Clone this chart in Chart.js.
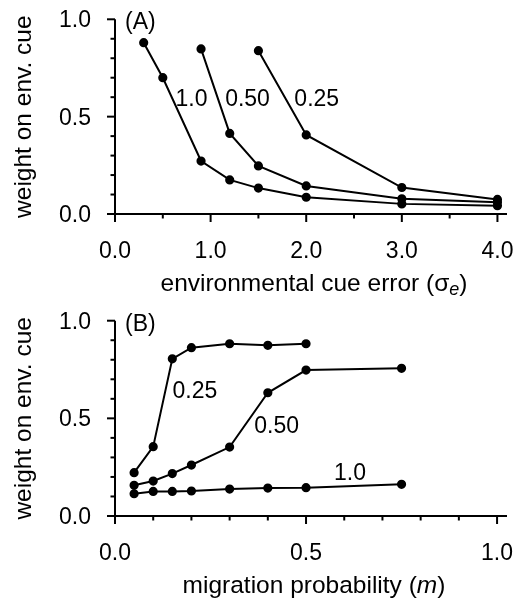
<!DOCTYPE html>
<html>
<head>
<meta charset="utf-8">
<script src="https://cdn.jsdelivr.net/npm/chart.js@4.4.1/dist/chart.umd.min.js"></script>
<style>
  body { margin: 0; background: #fff; }
  canvas { display: block; }
</style>
</head>
<body>
<canvas id="chartA" width="515" height="300"></canvas>
<canvas id="chartB" width="515" height="302"></canvas>
<script>
// panel A: weight vs environmental cue error, one curve per migration level
const cueError = [0.3, 0.5, 0.9, 1.2, 1.5, 2.0, 3.0, 4.0];
const cueErrorMid = [0.9, 1.2, 1.5, 2.0, 3.0, 4.0];
const cueErrorHigh = [1.5, 2.0, 3.0, 4.0];
const weightA_10 = [0.88, 0.70, 0.272, 0.175, 0.133, 0.086, 0.052, 0.043];
const weightA_050 = [0.848, 0.414, 0.247, 0.144, 0.078, 0.06];
const weightA_025 = [0.839, 0.406, 0.136, 0.075];

// panel B: weight vs migration probability
const migration = [0.05, 0.1, 0.15, 0.2, 0.3, 0.4, 0.5, 0.75];
const migrationShort = [0.05, 0.1, 0.15, 0.2, 0.3, 0.4, 0.5];
const weightB_025 = [0.222, 0.355, 0.805, 0.862, 0.882, 0.874, 0.882];
const weightB_050 = [0.157, 0.179, 0.217, 0.261, 0.353, 0.631, 0.747, 0.756];
const weightB_10 = [0.114, 0.126, 0.126, 0.128, 0.138, 0.143, 0.145, 0.162];

// ticks
const ticksXA = [0, 0.5, 1, 1.5, 2, 2.5, 3, 3.5, 4];
const labelsXA = { 0: "0.0", 1: "1.0", 2: "2.0", 3: "3.0", 4: "4.0" };
const ticksXB = [0, 0.1, 0.2, 0.3, 0.4, 0.5, 0.6, 0.7, 0.8, 0.9, 1.0];
const labelsXB = { 0: "0.0", 0.5: "0.5", 1: "1.0" };
const ticksY = [0, 0.1, 0.2, 0.3, 0.4, 0.5, 0.6, 0.7, 0.8, 0.9, 1.0];
const labelsY = { 0: "0.0", 0.5: "0.5", 1: "1.0" };

const FONT = '"Liberation Sans", Arial, Helvetica, sans-serif';

function pts(xs, ys) {
    return ys.map((v, i) => ({ x: xs[i], y: v }));
}

function serie(xs, ys) {
    return {
        data: pts(xs, ys),
        showLine: true,
        borderColor: "#000",
        backgroundColor: "#000",
        borderWidth: 2,
        pointRadius: 3.6,
        pointHoverRadius: 3.6,
        tension: 0
    };
}

// draws the axes, ticks and all the text by hand (mixed italic title)
const axesPlugin = {
    id: "axesPlugin",
    afterDraw(chart, args, opts) {
        const { ctx, chartArea: area } = chart;
        const x = chart.scales.x, y = chart.scales.y;
        ctx.save();
        ctx.strokeStyle = "#000";
        ctx.fillStyle = "#000";
        ctx.lineWidth = 2;
        ctx.lineCap = "butt";

        // axis lines
        ctx.beginPath();
        ctx.moveTo(area.left, y.getPixelForValue(1));
        ctx.lineTo(area.left, area.bottom);
        ctx.lineTo(area.right, area.bottom);
        ctx.stroke();

        // x ticks
        ctx.font = "23px " + FONT;
        ctx.textAlign = "center";
        ctx.textBaseline = "alphabetic";
        opts.ticksX.forEach(t => {
            const px = x.getPixelForValue(t);
            const lab = opts.labelsX[t];
            ctx.beginPath();
            ctx.moveTo(px, area.bottom);
            ctx.lineTo(px, area.bottom + (lab ? 8 : 4.5));
            ctx.stroke();
            if (lab) ctx.fillText(lab, px, area.bottom + 43.5);
        });

        // y ticks
        ctx.textAlign = "right";
        opts.ticksY.forEach(t => {
            const py = y.getPixelForValue(t);
            const lab = opts.labelsY[t];
            ctx.beginPath();
            ctx.moveTo(area.left, py);
            ctx.lineTo(area.left - (lab ? 8 : 4.5), py);
            ctx.stroke();
            if (lab) ctx.fillText(lab, area.left - 24, py + 8);
        });

        // panel letter
        ctx.font = "23px " + FONT;
        ctx.textAlign = "left";
        ctx.fillText(opts.panel, area.left + 10, area.top + 10);

        // curve labels
        ctx.textAlign = "center";
        opts.curveLabels.forEach(l => {
            ctx.fillText(l.text, x.getPixelForValue(l.x), y.getPixelForValue(l.y));
        });

        // x title, pieces with their own font
        const base = area.bottom + 77;
        let total = 0;
        opts.titleX.forEach(p => {
            ctx.font = p.font + FONT;
            p.w = ctx.measureText(p.text).width;
            total += p.w;
        });
        let cx = (area.left + area.right) / 2 + 3 - total / 2;
        ctx.textAlign = "left";
        opts.titleX.forEach(p => {
            ctx.font = p.font + FONT;
            ctx.fillText(p.text, cx, base + (p.dy || 0));
            cx += p.w;
        });

        // y title
        ctx.font = "24.5px " + FONT;
        ctx.textAlign = "center";
        ctx.translate(31, (area.top + area.bottom) / 2);
        ctx.rotate(-Math.PI / 2);
        ctx.fillText("weight on env. cue", 0, 0);
        ctx.restore();
    }
};

function makeChart(id, datasets, xMax, pad, extra) {
    return new Chart(document.getElementById(id), {
        type: "scatter",
        data: { datasets: datasets },
        options: {
            responsive: false,
            animation: false,
            layout: { padding: pad },
            scales: {
                x: { type: "linear", min: 0, max: xMax, display: false },
                y: { type: "linear", min: 0, max: 1, display: false }
            },
            plugins: {
                legend: { display: false },
                tooltip: { enabled: false },
                axesPlugin: extra
            }
        },
        plugins: [axesPlugin]
    });
}

makeChart("chartA",
    [serie(cueError, weightA_10), serie(cueErrorMid, weightA_050), serie(cueErrorHigh, weightA_025)],
    4.1,
    { left: 115, right: 8, top: 19.3, bottom: 86 },
    {
        panel: "(A)",
        ticksX: ticksXA, labelsX: labelsXA, ticksY: ticksY, labelsY: labelsY,
        curveLabels: [
            { text: "1.0", x: 0.80, y: 0.555 },
            { text: "0.50", x: 1.386, y: 0.555 },
            { text: "0.25", x: 2.11, y: 0.555 }
        ],
        titleX: [
            { text: "environmental cue error (σ", font: "24.5px " },
            { text: "e", font: "italic 18px ", dy: 4 },
            { text: ")", font: "24.5px " }
        ]
    });

makeChart("chartB",
    [serie(migrationShort, weightB_025), serie(migration, weightB_050), serie(migration, weightB_10)],
    1.026,
    { left: 115, right: 8, top: 20.7, bottom: 86 },
    {
        panel: "(B)",
        ticksX: ticksXB, labelsX: labelsXB, ticksY: ticksY, labelsY: labelsY,
        curveLabels: [
            { text: "0.25", x: 0.209, y: 0.604 },
            { text: "0.50", x: 0.423, y: 0.425 },
            { text: "1.0", x: 0.615, y: 0.184 }
        ],
        titleX: [
            { text: "migration probability (", font: "24.5px " },
            { text: "m", font: "italic 24.5px " },
            { text: ")", font: "24.5px " }
        ]
    });
</script>
</body>
</html>
